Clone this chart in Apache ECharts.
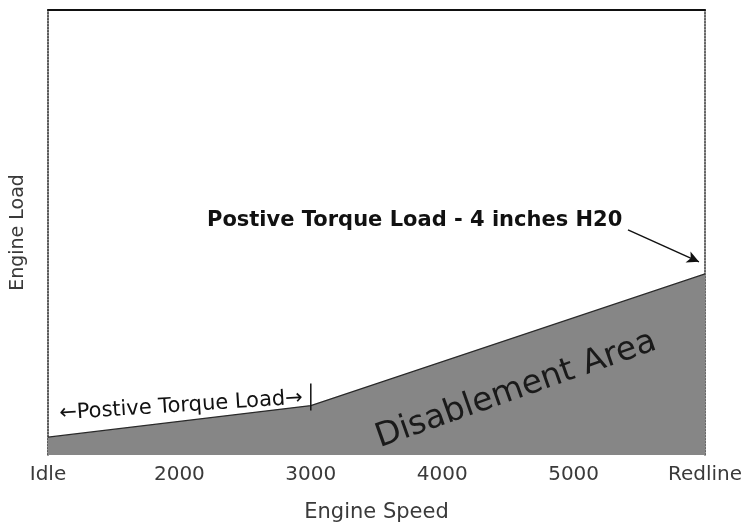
<!DOCTYPE html>
<html><head><meta charset="utf-8">
<script src="https://cdn.jsdelivr.net/npm/echarts@6/dist/echarts.min.js"></script>
<style>html,body{margin:0;padding:0;background:#fff}#c{width:748px;height:528px}</style>
</head><body><div id="c"></div>
<script>
const speeds = [1000, 3000, 6000];
const loadLimit = [4.0, 11.1, 40.7];
const tickValues = [1000, 2000, 3000, 4000, 5000, 6000];
const tickLabels = ['Idle', '2000', '3000', '4000', '5000', 'Redline'];
const arrowFrom = [5414, 50.6];
const arrowTo = [5954, 43.4];

const chart = echarts.init(document.getElementById('c'), null, {renderer: 'canvas'});
const FONT = 'DejaVu Sans';
chart.setOption({
  animation: false,
  backgroundColor: '#fff',
  grid: {left: 48, right: 43, top: 10, bottom: 73, show: false},
  xAxis: [{
    type: 'value', min: 1000, max: 6000, interval: 1000,
    name: 'Engine Speed', nameLocation: 'middle', nameGap: 47,
    nameTextStyle: {fontFamily: FONT, fontSize: 21, color: '#3a3a3a'},
    axisLine: {show: false}, axisTick: {show: false}, splitLine: {show: false},
    axisLabel: {margin: 10, fontFamily: FONT, fontSize: 20, color: '#3a3a3a',
      formatter: v => tickLabels[tickValues.indexOf(v)] || ''}
  }, {
    type: 'value', min: 1000, max: 6000, position: 'top',
    axisLine: {show: true, onZero: false, lineStyle: {color: '#111', width: 2}},
    axisTick: {show: false}, axisLabel: {show: false}, splitLine: {show: false}
  }],
  yAxis: [{
    type: 'value', min: 0, max: 100,
    name: 'Engine Load', nameLocation: 'middle', nameGap: 20,
    nameTextStyle: {fontFamily: FONT, fontSize: 19, color: '#3a3a3a'},
    axisLine: {show: true, onZero: false, lineStyle: {color: '#222', width: 1.5, type: 'dotted'}},
    axisTick: {show: false}, axisLabel: {show: false}, splitLine: {show: false}
  }, {
    type: 'value', min: 0, max: 100, position: 'right',
    axisLine: {show: true, onZero: false, lineStyle: {color: '#333', width: 1.5, type: 'dotted'}},
    axisTick: {show: false}, axisLabel: {show: false}, splitLine: {show: false}
  }],
  series: [{
    type: 'line',
    data: speeds.map((s, i) => [s, loadLimit[i]]),
    symbol: 'none',
    lineStyle: {color: '#2a2a2a', width: 1.2},
    areaStyle: {color: '#868686', opacity: 1},
    markLine: {
      silent: true, symbol: ['none', 'arrow'], symbolSize: [9, 12],
      label: {show: false},
      lineStyle: {color: '#111', width: 1.5, type: 'solid'},
      data: [[{coord: arrowFrom}, {coord: arrowTo}]]
    }
  }]
});

const p3000 = chart.convertToPixel({gridIndex: 0}, [3000, loadLimit[1]]);
chart.setOption({
  graphic: [
    {type: 'text', z: 10, x: 207, y: 221, style: {text: 'Postive Torque Load - 4 inches H20',
      font: 'bold 21px "' + FONT + '"', fill: '#111', verticalAlign: 'middle'}},
    {type: 'text', z: 10, x: 181, y: 406, rotation: 0.065,
      style: {text: '\u2190Postive Torque Load\u2192', font: '21px "' + FONT + '"', fill: '#111',
        align: 'center', verticalAlign: 'middle'}},
    {type: 'line', z: 10, shape: {x1: p3000[0], y1: p3000[1] - 22, x2: p3000[0], y2: p3000[1] + 5},
      style: {stroke: '#111', lineWidth: 1.5}},
    {type: 'text', z: 10, x: 516, y: 390, rotation: 0.34,
      style: {text: 'Disablement Area', font: '33px "' + FONT + '"', fill: '#1a1a1a',
        align: 'center', verticalAlign: 'middle'}}
  ]
});
</script></body></html>
